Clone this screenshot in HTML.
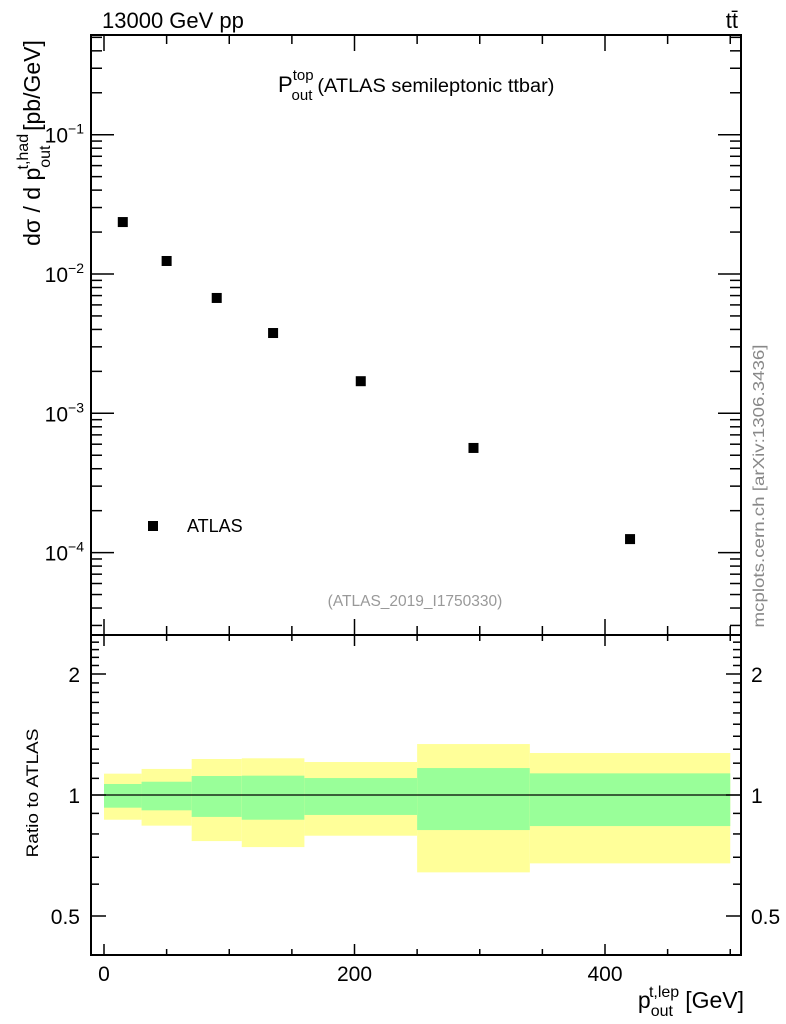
<!DOCTYPE html>
<html><head><meta charset="utf-8"><style>
html,body{margin:0;padding:0;background:#fff;}
svg{display:block;font-family:"Liberation Sans",sans-serif;}
</style></head><body>
<svg id="chart" width="786" height="1024" viewBox="0 0 786 1024" xmlns="http://www.w3.org/2000/svg">
<g id="bands"></g>
<g id="marks"></g>
<g id="ticks"></g>
<rect x="91" y="35" width="650" height="600" fill="none" stroke="#000" stroke-width="2"/>
<rect x="91" y="635" width="650" height="320" fill="none" stroke="#000" stroke-width="2"/>
<line x1="91" y1="795" x2="741" y2="795" stroke="#000" stroke-width="1.2"/>
<text x="102" y="28" font-size="22">13000 GeV pp</text>
<text x="738" y="28" font-size="22" text-anchor="end">tt̄</text>
<text x="278" y="92" font-size="22">P<tspan font-size="15" dy="-12">top</tspan><tspan font-size="15" dx="-22" dy="20">out</tspan><tspan font-size="19" dx="5" dy="-8" textLength="237" lengthAdjust="spacingAndGlyphs">(ATLAS semileptonic ttbar)</tspan></text>
<rect x="148" y="521" width="10" height="10" fill="#000"/>
<text x="187" y="532" font-size="18">ATLAS</text>
<text x="415" y="606" font-size="15.5" fill="#999" text-anchor="middle">(ATLAS_2019_I1750330)</text>
<text transform="translate(764,486) rotate(-90)" font-size="16" fill="#888" text-anchor="middle" textLength="283" lengthAdjust="spacingAndGlyphs">mcplots.cern.ch [arXiv:1306.3436]</text>
<text transform="translate(40,143) rotate(-90)" font-size="23" text-anchor="middle">dσ / d p<tspan font-size="16" dy="10">out</tspan><tspan font-size="16" dx="-24" dy="-22">t,had</tspan><tspan dy="12" dx="3">[pb/GeV]</tspan></text>
<text transform="translate(38,793) rotate(-90)" font-size="17" text-anchor="middle" textLength="129" lengthAdjust="spacingAndGlyphs">Ratio to ATLAS</text>
<text x="744" y="1008" font-size="23" text-anchor="end">p<tspan font-size="16" dy="8">out</tspan><tspan font-size="16" dx="-24" dy="-19">t,lep</tspan><tspan dx="6" dy="11">[GeV]</tspan></text>
<g id="labels"></g>
</svg>
<script>
const binEdges=[0,30,70,110,160,250,340,500];
const xCenters=[15,50,90,135,205,295,420];
const yValues=[0.0236,0.0124,0.00673,0.00377,0.0017,0.000564,0.000125];
const yellowHi=[1.130,1.161,1.229,1.234,1.208,1.339,1.272];
const greenHi=[1.065,1.079,1.115,1.117,1.102,1.167,1.132];
const greenLo=[0.930,0.916,0.882,0.868,0.892,0.818,0.837];
const yellowLo=[0.868,0.839,0.768,0.742,0.792,0.642,0.676];
const xTickLabels=[0,200,400];
const yDecades=[-4,-3,-2,-1];
const ratioTickLabels=[0.5,1,2];

const NS="http://www.w3.org/2000/svg";
const X=v=>104+1.2525*v;
const Y=v=>134.7-(Math.log10(v)+1)*139.3;
const R=v=>795-Math.log2(v)*121;
function mk(tag,attrs,parent){const e=document.createElementNS(NS,tag);for(const k in attrs)e.setAttribute(k,attrs[k]);parent.appendChild(e);return e;}
const bands=document.getElementById('bands'),marks=document.getElementById('marks'),ticks=document.getElementById('ticks'),labels=document.getElementById('labels');
for(let i=0;i<xCenters.length;i++){
  const x0=X(binEdges[i]),x1=X(binEdges[i+1]);
  const y=mk('rect',{x:x0,y:R(yellowHi[i]),width:x1-x0,height:R(yellowLo[i])-R(yellowHi[i]),fill:'#ffff99'},bands);
  
  
  const g=mk('rect',{x:x0,y:R(greenHi[i]),width:x1-x0,height:R(greenLo[i])-R(greenHi[i]),fill:'#99ff99'},bands);
  
  
  const p=mk('rect',{x:X(xCenters[i])-5,y:Y(yValues[i])-5,width:10,height:10,fill:'#000'},marks);
  
  
}
const ln=(x1,y1,x2,y2)=>mk('line',{x1,y1,x2,y2,stroke:'#000','stroke-width':1.5},ticks);
for(let v=0;v<=500;v+=50){const x=X(v),maj=v%200===0;const L=maj?16:9,l2=maj?11:6;
  ln(x,35,x,35+L);ln(x,635,x,635-L);ln(x,635,x,635+l2);ln(x,955,x,955-l2);}
for(let d=-5;d<=0;d++){for(let m=1;m<=9;m++){const v=m*Math.pow(10,d);const y=Y(v);if(y<36||y>634)continue;const L=m===1?23:11;ln(91,y,91+L,y);ln(741,y,741-L,y);}}
for(let k=4;k<=25;k++){const v=k/10;const y=R(v);if(y<636||y>954)continue;const maj=(k===5||k===10||k===20);const L=maj?15:8;ln(91,y,91+L,y);ln(741,y,741-L,y);}
xTickLabels.forEach(v=>{const t=mk('text',{x:X(v),y:981,'font-size':21,'text-anchor':'middle'},labels);t.textContent=v;
  
  });
yDecades.forEach(d=>{const t=mk('text',{x:84,y:Y(Math.pow(10,d))+8,'font-size':21,'text-anchor':'end'},labels);
  t.innerHTML='10<tspan font-size="14" dy="-9">'+(d===0?'0':'−'+(-d))+'</tspan>';
  
  });
ratioTickLabels.forEach(v=>{const y=R(v)+8;
  const a=mk('text',{x:80,y,'font-size':21,'text-anchor':'end'},labels);a.textContent=v;
  
  
  const b=mk('text',{x:751,y,'font-size':21},labels);b.textContent=v;
  
  });
</script>
</body></html>
